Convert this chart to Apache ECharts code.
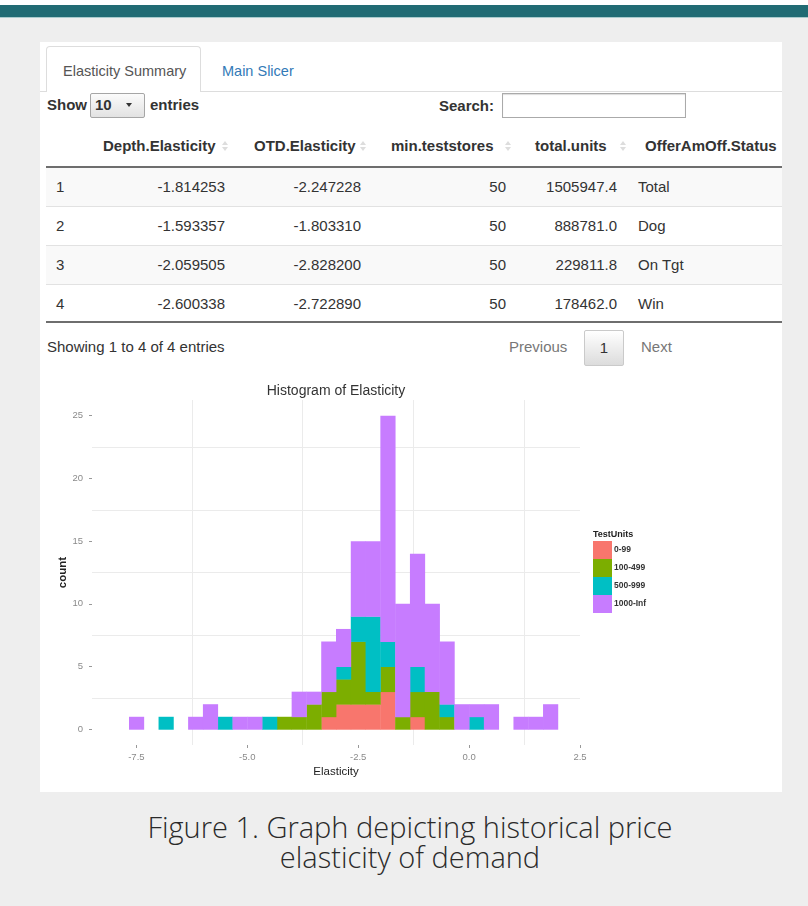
<!DOCTYPE html>
<html>
<head>
<meta charset="utf-8">
<script src="https://cdn.jsdelivr.net/npm/echarts@6/dist/echarts.min.js"></script>
<style>
html,body{margin:0;padding:0;}
body{width:808px;height:906px;background:#eeeeee;position:relative;overflow:hidden;font-family:"Liberation Sans",Arial,sans-serif;color:#333;}
.a{position:absolute;white-space:nowrap;}
.sort{position:absolute;width:7px;height:11px;}
.sort:before{content:"";position:absolute;left:0;top:0;border-left:3.5px solid transparent;border-right:3.5px solid transparent;border-bottom:4.5px solid #ddd;}
.sort:after{content:"";position:absolute;left:0;top:6px;border-left:3.5px solid transparent;border-right:3.5px solid transparent;border-top:4.5px solid #ddd;}
#chart{position:absolute;left:0;top:0;width:808px;height:906px;z-index:5;pointer-events:none;}
</style>
</head>
<body>
<div class="a" style="left:0;top:0;width:808px;height:5px;background:#fff"></div>
<div class="a" style="left:0;top:5px;width:808px;height:12px;background:#216b74"></div>
<div class="a" style="left:0;top:17px;width:808px;height:1px;background:#a9cbcd"></div>
<div class="a" style="left:40px;top:42px;width:742px;height:750px;background:#fff"></div>
<div id="ui"></div>
<div id="caption" class="a" style="left:0;top:812px;width:820px;text-align:center;font-family:'Open Sans',sans-serif;font-weight:300;font-size:29px;line-height:30px;color:#2a2a2a;white-space:normal">Figure 1. Graph depicting historical price<br>elasticity of demand</div>
<div id="chart"></div>
<script>
// ---------- table data ----------
const rowIds = ["1", "2", "3", "4"];
const depthElasticity = ["-1.814253", "-1.593357", "-2.059505", "-2.600338"];
const otdElasticity = ["-2.247228", "-1.803310", "-2.828200", "-2.722890"];
const minTeststores = ["50", "50", "50", "50"];
const totalUnits = ["1505947.4", "888781.0", "229811.8", "178462.0"];
const offerStatus = ["Total", "Dog", "On Tgt", "Win"];
const tableHeaders = ["", "Depth.Elasticity", "OTD.Elasticity", "min.teststores", "total.units", "OfferAmOff.Status"];

// ---------- histogram data ----------
const testUnitLevels = ["0-99", "100-499", "500-999", "1000-Inf"];
const binFirstEdge = -8;      // left edge of the first histogram bin
const binWidth = 1 / 3;       // histogram bin width
const count0to99 =    [0,0,0,0,0,0,0,0,0,0,0,0,0,0,1,2,2,2,3,0,1,0,0,0,0,0,0,0,0,0];
const count100to499 = [0,0,0,0,0,0,0,0,0,0,0,1,1,2,2,2,5,1,2,1,2,3,1,0,0,0,0,0,0,0];
const count500to999 = [0,0,0,1,0,0,0,1,0,0,1,0,0,0,0,1,2,6,2,0,2,0,1,0,1,0,0,0,0,0];
const count1000plus = [0,1,0,0,0,1,2,0,1,1,0,0,2,1,4,3,6,6,18,9,9,7,5,2,1,2,0,1,1,2];
const xTickValues = [-7.5, -5, -2.5, 0, 2.5];
const yTickValues = [0, 5, 10, 15, 20, 25];
const xMinorGrid = [-6.25, -3.75, -1.25, 1.25];
const yMinorGrid = [2.5, 7.5, 12.5, 17.5, 22.5];

// ---------- build the HTML part ----------
const ui = document.getElementById('ui');
function add(html){ ui.insertAdjacentHTML('beforeend', html); }
const F = "font-size:15px;";
// tabs
add('<div class="a" style="left:40px;top:91px;width:742px;height:1px;background:#ddd"></div>');
add('<div class="a" style="left:46px;top:46px;width:155px;height:46px;border:1px solid #ddd;border-bottom:none;border-radius:4px 4px 0 0;background:#fff;box-sizing:border-box"></div>');
add('<div class="a" style="left:63px;top:62px;font-size:14.5px;line-height:18px;color:#555">Elasticity Summary</div>');
add('<div class="a" style="left:222px;top:62px;font-size:14.5px;line-height:18px;color:#337ab7">Main Slicer</div>');
// show entries / search
add('<div class="a" style="left:47px;top:96px;'+F+'line-height:18px;font-weight:bold">Show</div>');
add('<div class="a" style="left:90px;top:93px;width:55px;height:25px;box-sizing:border-box;border:1px solid #a6a6a6;border-radius:2px;background:linear-gradient(#fbfbfb,#e2e2e2)"></div>');
add('<div class="a" style="left:95px;top:96px;'+F+'line-height:18px;font-weight:bold">10</div>');
add('<div class="a" style="left:126px;top:103px;width:0;height:0;border-left:3.5px solid transparent;border-right:3.5px solid transparent;border-top:4px solid #333"></div>');
add('<div class="a" style="left:150px;top:96px;'+F+'line-height:18px;font-weight:bold">entries</div>');
add('<div class="a" style="right:314px;top:97px;'+F+'line-height:18px;font-weight:bold">Search:</div>');
add('<div class="a" style="left:502px;top:93px;width:184px;height:25px;box-sizing:border-box;border:1px solid #aaa;box-shadow:inset 0 1px 1px #ddd;background:#fff"></div>');
// header
const headerLeft = [null, 103, 254, 391, 535, 645];
const sortLeft = [null, 222, 360, 505, 620, null];
tableHeaders.forEach((h, i) => {
  if (!h) return;
  add('<div class="a" style="left:'+headerLeft[i]+'px;top:137px;'+F+'line-height:18px;font-weight:bold">'+h+'</div>');
  if (sortLeft[i] !== null) add('<div class="sort" style="left:'+sortLeft[i]+'px;top:141px"></div>');
});
add('<div class="a" style="left:46px;top:166px;width:736px;height:2px;background:#6e6e6e"></div>');
// rows
const rowTop = [168, 207, 246, 285];
const rowH = [39, 39, 39, 36];
rowIds.forEach((id, r) => {
  const t = rowTop[r];
  const bg = (r % 2 === 0) ? '#f9f9f9' : '#fff';
  add('<div class="a" style="left:46px;top:'+t+'px;width:736px;height:'+rowH[r]+'px;background:'+bg+'"></div>');
  if (r > 0) add('<div class="a" style="left:46px;top:'+(t-1)+'px;width:736px;height:1px;background:#e2e2e2"></div>');
  const ty = t + 10;
  const st = 'top:'+ty+'px;'+F+'line-height:18px;color:#333';
  add('<div class="a" style="left:56px;'+st+'">'+id+'</div>');
  add('<div class="a" style="right:583px;'+st+'">'+depthElasticity[r]+'</div>');
  add('<div class="a" style="right:447px;'+st+'">'+otdElasticity[r]+'</div>');
  add('<div class="a" style="right:302px;'+st+'">'+minTeststores[r]+'</div>');
  add('<div class="a" style="right:191px;'+st+'">'+totalUnits[r]+'</div>');
  add('<div class="a" style="left:638px;'+st+'">'+offerStatus[r]+'</div>');
});
add('<div class="a" style="left:46px;top:321px;width:736px;height:2px;background:#6e6e6e"></div>');
// footer
add('<div class="a" style="left:47px;top:338px;'+F+'line-height:18px;color:#333">Showing 1 to 4 of 4 entries</div>');
add('<div class="a" style="left:509px;top:338px;'+F+'line-height:18px;color:#777">Previous</div>');
add('<div class="a" style="left:584px;top:330px;width:40px;height:36px;box-sizing:border-box;border:1px solid #cacaca;border-radius:2px;background:linear-gradient(#fff,#dcdcdc)"></div>');
add('<div class="a" style="left:584px;top:339px;width:40px;text-align:center;'+F+'line-height:18px;color:#333">1</div>');
add('<div class="a" style="left:641px;top:338px;'+F+'line-height:18px;color:#777">Next</div>');

// ---------- histogram ----------
const groups = [count0to99, count100to499, count500to999, count1000plus];
const groupColors = ['#F8766D', '#7CAE00', '#00BFC4', '#C77CFF'];
const nBins = count1000plus.length;
const edges = [];
for (let k = 0; k <= nBins; k++) edges.push(binFirstEdge + k * binWidth);

function stackedRects(gi) {
  const out = [];
  for (let k = 0; k < nBins; k++) {
    let base = 0;
    for (let g = 0; g < gi; g++) base += groups[g][k];
    const c = groups[gi][k];
    if (c > 0) out.push([edges[k], edges[k + 1], base, base + c]);
  }
  return out;
}
function renderRect(params, api) {
  const p0 = api.coord([api.value(0), api.value(2)]);
  const p1 = api.coord([api.value(1), api.value(3)]);
  return {
    type: 'rect',
    shape: { x: p0[0], y: p1[1], width: p1[0] - p0[0] + 0.4, height: p0[1] - p1[1] + 0.4 },
    style: { fill: api.visual('color') }
  };
}
const FONT = '"Liberation Sans", Arial, sans-serif';
const series = testUnitLevels.map((name, gi) => ({
  name: name,
  type: 'custom',
  renderItem: renderRect,
  data: stackedRects(gi),
  encode: { x: [0, 1], y: [2, 3] },
  itemStyle: { color: groupColors[gi] },
  z: 2,
  silent: true
}));
series.push({
  type: 'custom',
  name: 'grid',
  renderItem: () => null,
  data: [],
  silent: true,
  markLine: {
    silent: true, z: 1, animation: false,
    symbol: ['none', 'none'],
    label: { show: false },
    lineStyle: { color: '#ebebeb', width: 1, type: 'solid' },
    data: xMinorGrid.map(v => ({ xAxis: v })).concat(yMinorGrid.map(v => ({ yAxis: v })))
  }
});

const chart = echarts.init(document.getElementById('chart'), null, { renderer: 'canvas' });
chart.setOption({
  animation: false,
  backgroundColor: 'transparent',
  color: groupColors,
  grid: { left: 92, top: 400, width: 488, height: 345, containLabel: false, outerBoundsMode: 'none' },
  xAxis: {
    type: 'value', min: -8.5, max: 2.5,
    name: 'Elasticity', nameLocation: 'middle', nameGap: 21,
    nameTextStyle: { fontFamily: FONT, fontSize: 11.5, color: '#222' },
    axisLine: { show: false, onZero: false },
    splitLine: { show: false },
    axisTick: { show: true, customValues: xTickValues, length: 3, lineStyle: { color: '#999', width: 1 } },
    axisLabel: { customValues: xTickValues, margin: 7, fontFamily: FONT, fontSize: 9.5, color: '#8a8a8a', formatter: v => v.toFixed(1) }
  },
  yAxis: {
    type: 'value', min: -1.25, max: 26.25,
    name: 'count', nameLocation: 'middle', nameGap: 23, nameRotate: 90, nameMoveOverlap: false,
    nameTextStyle: { fontFamily: FONT, fontSize: 11.5, color: '#222', fontWeight: 'bold' },
    axisLine: { show: false, onZero: false },
    splitLine: { show: false },
    axisTick: { show: true, customValues: yTickValues, length: 3, lineStyle: { color: '#999', width: 1 } },
    axisLabel: { customValues: yTickValues, margin: 9, fontFamily: FONT, fontSize: 9.5, color: '#8a8a8a' }
  },
  legend: {
    data: testUnitLevels,
    orient: 'vertical', left: 593, top: 541, padding: 0,
    itemWidth: 19, itemHeight: 18, itemGap: 0, icon: 'rect',
    selectedMode: false,
    textStyle: { fontFamily: FONT, fontSize: 8.5, fontWeight: 'bold', color: '#333', padding: [0, 0, 0, -3] }
  },
  graphic: [
    { type: 'text', x: 336, y: 391, silent: true,
      style: { text: 'Histogram of Elasticity', font: '14px ' + FONT, fill: '#333', textAlign: 'center', textVerticalAlign: 'middle' } },
    { type: 'text', x: 593, y: 535, silent: true,
      style: { text: 'TestUnits', font: 'bold 9px ' + FONT, fill: '#222', textAlign: 'left', textVerticalAlign: 'middle' } }
  ],
  series: series
});
</script>
</body>
</html>
